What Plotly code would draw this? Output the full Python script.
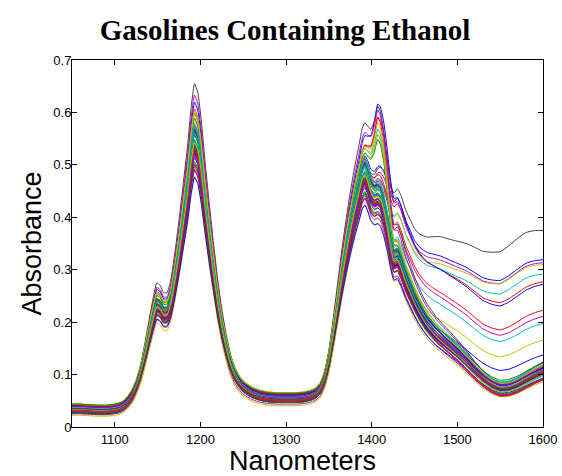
import numpy as np
import plotly.graph_objects as go

# wavelength grid (nm)
nm = [1050, 1060, 1070, 1080, 1090, 1100, 1105, 1110, 1115, 1120,
      1125, 1130, 1135, 1140, 1145, 1149, 1153, 1157, 1161, 1165,
      1170, 1175, 1180, 1185, 1189, 1193, 1197, 1201, 1205, 1210,
      1215, 1220, 1225, 1230, 1235, 1240, 1245, 1250, 1260, 1270,
      1280, 1290, 1300, 1310, 1320, 1330, 1335, 1340, 1345, 1350,
      1355, 1360, 1365, 1370, 1375, 1380, 1385, 1389, 1392, 1395,
      1399, 1403, 1407, 1410, 1414, 1418, 1422, 1426, 1430, 1434,
      1440, 1445, 1450, 1455, 1460, 1465, 1470, 1475, 1480, 1490,
      1500, 1510, 1520, 1530, 1540, 1550, 1560, 1570, 1580, 1590,
      1600]

# typical (bundle centre) spectrum
base_spectrum = [0.036, 0.036, 0.035, 0.034, 0.034, 0.036, 0.038, 0.042, 0.050, 0.062,
                 0.080, 0.105, 0.140, 0.178, 0.215, 0.238, 0.234, 0.222, 0.222, 0.240,
                 0.285, 0.340, 0.400, 0.460, 0.520, 0.560, 0.545, 0.500, 0.440, 0.370,
                 0.305, 0.245, 0.195, 0.155, 0.123, 0.102, 0.088, 0.078, 0.067, 0.061,
                 0.058, 0.057, 0.057, 0.057, 0.058, 0.062, 0.066, 0.075, 0.095, 0.130,
                 0.180, 0.235, 0.290, 0.340, 0.385, 0.425, 0.460, 0.488, 0.497, 0.485,
                 0.462, 0.452, 0.455, 0.450, 0.428, 0.395, 0.355, 0.327, 0.330, 0.315,
                 0.285, 0.265, 0.245, 0.228, 0.213, 0.200, 0.190, 0.180, 0.172, 0.157,
                 0.142, 0.125, 0.107, 0.091, 0.079, 0.072, 0.073, 0.079, 0.088, 0.097,
                 0.105]

# raised-tail profile (relative to its value at 1550 nm)
tail_profile = [0.0, 0.0, 0.0, 0.0, 0.0, 0.0, 0.0, 0.0, 0.0, 0.0,
                0.0, 0.0, 0.0, 0.0, 0.0, 0.0, 0.0, 0.0, 0.0, 0.0,
                0.0, 0.0, 0.0, 0.0, 0.0, 0.0, 0.0, 0.0, 0.0, 0.0,
                0.0, 0.0, 0.0, 0.0, 0.0, 0.0, 0.0, 0.0, 0.0, 0.0,
                0.0, 0.0, 0.0, 0.0, 0.0, 0.0, 0.0, 0.0, 0.0, 0.0,
                0.0, 0.0, 0.0, 0.0, 0.0, 0.0, 0.0, 0.02, 0.04, 0.06,
                0.09, 0.12, 0.15, 0.18, 0.24, 0.32, 0.40, 0.46, 0.48, 0.49,
                0.49, 0.50, 0.51, 0.54, 0.58, 0.62, 0.66, 0.70, 0.73, 0.77,
                0.81, 0.86, 0.90, 0.93, 0.97, 1.00, 1.04, 1.07, 1.08, 1.06,
                1.03]

# extra 1408 nm band profile
band1408_profile = [0.0, 0.0, 0.0, 0.0, 0.0, 0.0, 0.0, 0.0, 0.0, 0.0,
                    0.0, 0.0, 0.0, 0.0, 0.0, 0.0, 0.0, 0.0, 0.0, 0.0,
                    0.0, 0.0, 0.0, 0.0, 0.0, 0.0, 0.0, 0.0, 0.0, 0.0,
                    0.0, 0.0, 0.0, 0.0, 0.0, 0.0, 0.0, 0.0, 0.0, 0.0,
                    0.0, 0.0, 0.0, 0.0, 0.0, 0.0, 0.0, 0.0, 0.0, 0.0,
                    0.0, 0.0, 0.0, 0.0, 0.0, 0.0, 0.0, 0.0, 0.0, 0.10,
                    0.35, 0.70, 1.00, 0.95, 0.80, 0.50, 0.20, 0.05, 0.0, 0.0,
                    0.0, 0.0, 0.0, 0.0, 0.0, 0.0, 0.0, 0.0, 0.0, 0.0,
                    0.0, 0.0, 0.0, 0.0, 0.0, 0.0, 0.0, 0.0, 0.0, 0.0,
                    0.0]

# per-sample values
peak_scale = [1.02, 0.95, 1.06, 0.97, 1.01, 0.92, 0.99,
              1.11, 0.93, 1.03, 0.96, 1.00, 0.90, 1.18,
              0.86, 0.98, 1.09, 0.94, 1.14, 1.04, 0.97,
              0.91, 1.00, 0.95, 1.07, 0.89, 1.02, 0.96,
              0.98, 1.05, 0.93, 0.99, 1.01, 0.87, 0.94,
              0.84, 0.97, 1.03, 0.92, 0.96, 1.08, 1.00,
              0.95, 0.90, 0.99, 1.04, 0.93, 0.98, 0.91,
              1.01, 0.96, 0.88, 1.02, 0.94, 1.06, 0.97,
              0.93, 0.99, 0.95, 1.00, 0.92, 0.97, 0.89]

baseline_offset = [0.002, -0.004, 0.005, 0.000, -0.006, 0.007, 0.003,
                   -0.002, 0.006, -0.005, 0.001, 0.004, -0.003, -0.006,
                   0.008, -0.001, -0.004, 0.003, -0.005, 0.006, -0.008,
                   0.004, -0.002, 0.009, 0.000, -0.007, 0.002, 0.005,
                   -0.003, 0.001, 0.007, -0.006, 0.003, -0.009, 0.004,
                   0.006, -0.002, 0.000, 0.008, -0.004, -0.001, 0.005,
                   -0.007, 0.002, 0.006, -0.003, 0.001, -0.005, 0.007,
                   0.003, -0.008, 0.004, 0.000, -0.002, 0.005, -0.006,
                   0.002, 0.008, -0.004, 0.001, 0.006, -0.001, 0.003]

tail_rise = [0.204, 0.004, 0.156, 0.184, 0.207, 0.200, 0.260,
             0.153, -0.003, 0.116, 0.093, 0.099, 0.072, 0.006,
             0.038, 0.010, -0.005, 0.002, 0.008, -0.006, 0.012,
             0.000, 0.005, -0.004, 0.009, 0.003, -0.008, 0.006,
             0.011, -0.002, 0.001, 0.007, -0.005, 0.004, 0.013,
             -0.001, 0.006, 0.002, -0.007, 0.010, 0.000, 0.003,
             0.008, -0.003, 0.005, 0.012, -0.006, 0.001, 0.009,
             0.004, -0.002, 0.007, 0.011, -0.004, 0.002, 0.006,
             0.000, 0.010, -0.005, 0.003, 0.008, -0.001, 0.005]

band1408 = [0.0, 0.0, 0.08, 0.0, 0.0, 0.0, 0.0,
            0.09, 0.0, 0.0, 0.0, 0.0, 0.0, 0.08,
            0.0, 0.0, 0.10, 0.0, 0.09, 0.08, 0.0,
            0.0, 0.0, 0.0, 0.08, 0.0, 0.0, 0.0,
            0.0, 0.07, 0.0, 0.0, 0.0, 0.0, 0.0,
            0.0, 0.0, 0.0, 0.0, 0.0, 0.09, 0.0,
            0.0, 0.0, 0.0, 0.0, 0.0, 0.0, 0.0,
            0.0, 0.0, 0.0, 0.0, 0.0, 0.07, 0.0,
            0.0, 0.0, 0.0, 0.0, 0.0, 0.0, 0.0]

x_ticks = [1100, 1200, 1300, 1400, 1500, 1600]
y_ticks = [0, 0.1, 0.2, 0.3, 0.4, 0.5, 0.6, 0.7]
y_ticktext = ["0", "0.1", "0.2", "0.3", "0.4", "0.5", "0.6", "0.7"]

# MATLAB classic colour order b g r c m y k
line_colors = ["rgb(0,0,255)", "rgb(0,128,0)", "rgb(255,0,0)", "rgb(0,191,191)",
               "rgb(191,0,191)", "rgb(191,191,0)", "rgb(64,64,64)"]

B = np.array(base_spectrum)
T = np.array(tail_profile)
E = np.array(band1408_profile)

fig = go.Figure()
for i in range(len(peak_scale)):
    y = B * peak_scale[i] + baseline_offset[i] + tail_rise[i] * T + band1408[i] * E
    fig.add_trace(go.Scatter(
        x=nm, y=y, mode="lines",
        line=dict(color=line_colors[i % 7], width=1, shape="spline", smoothing=0.4),
        showlegend=False, hoverinfo="skip"))

axis_common = dict(
    showline=True, linecolor="black", linewidth=1, mirror="allticks",
    ticks="inside", ticklen=5, tickcolor="black", tickwidth=1,
    showgrid=False, zeroline=False, automargin=False,
    tickfont=dict(family="Liberation Sans, Arial", size=13, color="black"),
)

label_font = dict(family="Liberation Sans, Arial", size=27, color="black")

fig.update_layout(
    width=562, height=476,
    margin=dict(l=72, r=19, t=60, b=49, autoexpand=False),
    paper_bgcolor="white", plot_bgcolor="white",
    title=dict(text="<b>Gasolines Containing Ethanol</b>",
               font=dict(family="Liberation Serif, Times New Roman", size=29, color="black"),
               x=285 / 562, xanchor="center", xref="container",
               y=1 - 30 / 476, yanchor="middle", yref="container"),
    xaxis=dict(range=[1050, 1600], tickvals=x_ticks, ticktext=[str(v) for v in x_ticks],
               **axis_common),
    yaxis=dict(range=[0, 0.7], tickvals=y_ticks, ticktext=y_ticktext,
               ticklabelstandoff=-3, **axis_common),
    annotations=[
        dict(text="Nanometers", xref="paper", yref="paper",
             x=(302 - 72) / (543 - 72), y=-(461 - 427) / (427 - 60),
             xanchor="center", yanchor="middle", showarrow=False, font=label_font),
        dict(text="Absorbance", xref="paper", yref="paper",
             x=-(72 - 31) / (543 - 72), y=0.5, textangle=-90,
             xanchor="center", yanchor="middle", showarrow=False, font=label_font),
    ],
)

fig.write_html("out.html", config={"displayModeBar": False},
               post_script="document.body.style.margin='0px';")
